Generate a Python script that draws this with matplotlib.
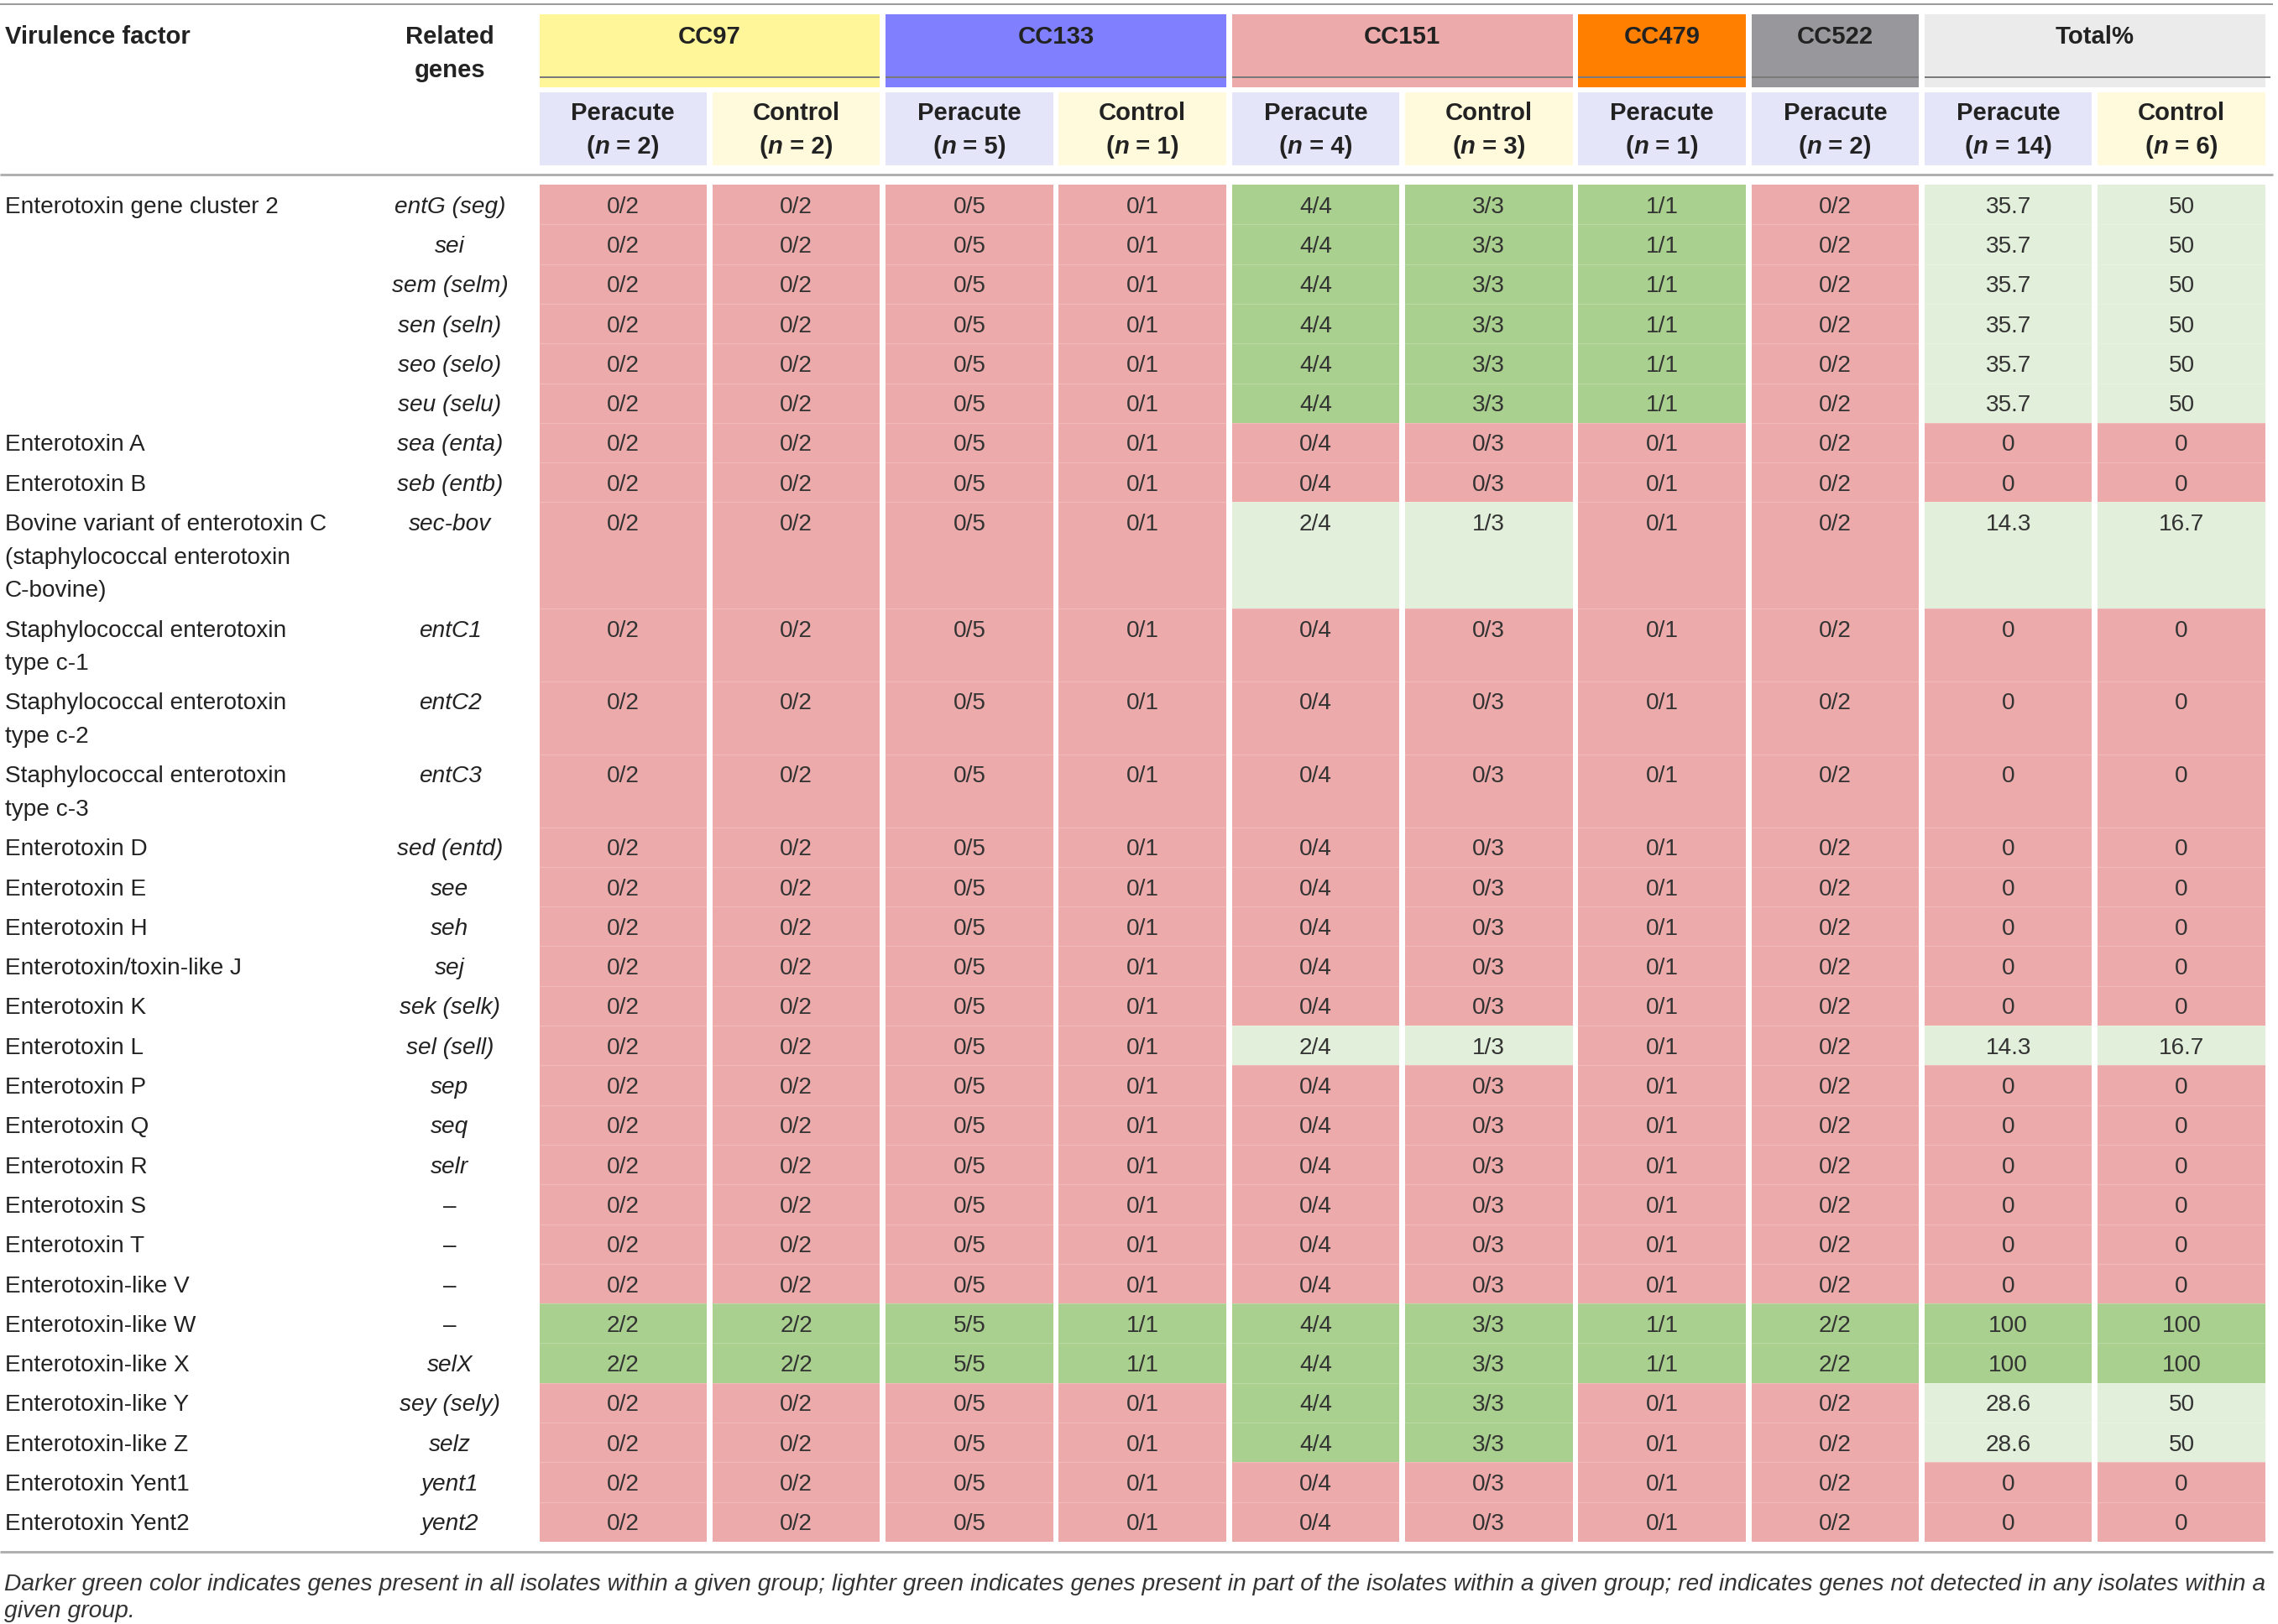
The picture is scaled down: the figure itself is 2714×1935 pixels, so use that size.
import matplotlib
matplotlib.use("Agg")
import matplotlib.pyplot as plt
from matplotlib.patches import Rectangle

# ---------------- data ----------------
factors = [
    "Enterotoxin gene cluster 2", "", "", "", "", "",
    "Enterotoxin A", "Enterotoxin B",
    "Bovine variant of enterotoxin C\n(staphylococcal enterotoxin\nC-bovine)",
    "Staphylococcal enterotoxin\ntype c-1",
    "Staphylococcal enterotoxin\ntype c-2",
    "Staphylococcal enterotoxin\ntype c-3",
    "Enterotoxin D", "Enterotoxin E", "Enterotoxin H", "Enterotoxin/toxin-like J",
    "Enterotoxin K", "Enterotoxin L", "Enterotoxin P", "Enterotoxin Q",
    "Enterotoxin R", "Enterotoxin S", "Enterotoxin T", "Enterotoxin-like V",
    "Enterotoxin-like W", "Enterotoxin-like X", "Enterotoxin-like Y",
    "Enterotoxin-like Z", "Enterotoxin Yent1", "Enterotoxin Yent2",
]
genes = [
    "entG (seg)", "sei", "sem (selm)", "sen (seln)", "seo (selo)", "seu (selu)",
    "sea (enta)", "seb (entb)", "sec-bov", "entC1", "entC2", "entC3",
    "sed (entd)", "see", "seh", "sej", "sek (selk)", "sel (sell)", "sep", "seq",
    "selr", "–", "–", "–", "–", "selX", "sey (sely)", "selz", "yent1", "yent2",
]

groups = ["CC97", "CC133", "CC151", "CC479", "CC522", "Total%"]
group_spans = [2, 2, 2, 1, 1, 2]
sub_labels = ["Peracute", "Control", "Peracute", "Control", "Peracute", "Control",
              "Peracute", "Peracute", "Peracute", "Control"]
sub_n = [2, 2, 5, 1, 4, 3, 1, 2, 14, 6]

cc97_peracute = [0, 0, 0, 0, 0, 0, 0, 0, 0, 0, 0, 0, 0, 0, 0, 0, 0, 0, 0, 0, 0, 0, 0, 0, 2, 2, 0, 0, 0, 0]
cc97_control  = [0, 0, 0, 0, 0, 0, 0, 0, 0, 0, 0, 0, 0, 0, 0, 0, 0, 0, 0, 0, 0, 0, 0, 0, 2, 2, 0, 0, 0, 0]
cc133_peracute = [0, 0, 0, 0, 0, 0, 0, 0, 0, 0, 0, 0, 0, 0, 0, 0, 0, 0, 0, 0, 0, 0, 0, 0, 5, 5, 0, 0, 0, 0]
cc133_control  = [0, 0, 0, 0, 0, 0, 0, 0, 0, 0, 0, 0, 0, 0, 0, 0, 0, 0, 0, 0, 0, 0, 0, 0, 1, 1, 0, 0, 0, 0]
cc151_peracute = [4, 4, 4, 4, 4, 4, 0, 0, 2, 0, 0, 0, 0, 0, 0, 0, 0, 2, 0, 0, 0, 0, 0, 0, 4, 4, 4, 4, 0, 0]
cc151_control  = [3, 3, 3, 3, 3, 3, 0, 0, 1, 0, 0, 0, 0, 0, 0, 0, 0, 1, 0, 0, 0, 0, 0, 0, 3, 3, 3, 3, 0, 0]
cc479_peracute = [1, 1, 1, 1, 1, 1, 0, 0, 0, 0, 0, 0, 0, 0, 0, 0, 0, 0, 0, 0, 0, 0, 0, 0, 1, 1, 0, 0, 0, 0]
cc522_peracute = [0, 0, 0, 0, 0, 0, 0, 0, 0, 0, 0, 0, 0, 0, 0, 0, 0, 0, 0, 0, 0, 0, 0, 0, 2, 2, 0, 0, 0, 0]
total_peracute = [35.7, 35.7, 35.7, 35.7, 35.7, 35.7, 0, 0, 14.3, 0, 0, 0, 0, 0, 0, 0, 0, 14.3,
                  0, 0, 0, 0, 0, 0, 100, 100, 28.6, 28.6, 0, 0]
total_control = [50, 50, 50, 50, 50, 50, 0, 0, 16.7, 0, 0, 0, 0, 0, 0, 0, 0, 16.7,
                 0, 0, 0, 0, 0, 0, 100, 100, 50, 50, 0, 0]

count_cols = [cc97_peracute, cc97_control, cc133_peracute, cc133_control,
              cc151_peracute, cc151_control, cc479_peracute, cc522_peracute]
pct_cols = [total_peracute, total_control]

caption_lines = [
    "Darker green color indicates genes present in all isolates within a given group; "
    "lighter green indicates genes present in part of the isolates within a given group; "
    "red indicates genes not detected in any isolates within a",
    "given group.",
]

# ---------------- style ----------------
W, H = 2714, 1935
DPI = 100
PX = 72.0 / DPI
FSPX = 28.0
FS = FSPX * PX
FSB = 29.3 * PX
FSC = 28.3 * PX
TXT = "#222222"
CELLTXT = "#333333"
RED = "#EDAAAA"
DGREEN = "#A9D08E"
LGREEN = "#E2EFDA"
group_colors = ["#FFF599", "#8080FF", "#EDAAAA", "#FF8000", "#98989C", "#EBEBEB"]
sub_colors = {"Peracute": "#E5E5FA", "Control": "#FFFADC"}
plt.rcParams["font.family"] = ["Liberation Sans", "DejaVu Sans"]

fig = plt.figure(figsize=(W / DPI, H / DPI), dpi=DPI)
ax = fig.add_axes([0, 0, 1, 1])
ax.set_xlim(0, W)
ax.set_ylim(H, 0)
ax.axis("off")

col_left0 = 642.5
col_step = 206.3
col_w = 199.5
data_top = 220.0
row_h1 = 47.3
row_line = 39.6


def col_x(i):
    return col_left0 + i * col_step


def put(x, yc, s, ha="center", **kw):
    kw.setdefault("color", TXT)
    kw.setdefault("fontsize", FS)
    base = 0.358 * kw["fontsize"] / PX  # baseline offset from visual centre
    return ax.text(x, yc + base, s, ha=ha, va="baseline", **kw)


# rows geometry
row_tops = []
row_hs = []
y = data_top
for f in factors:
    n = max(1, f.count("\n") + 1)
    h = row_h1 + row_line * (n - 1)
    row_tops.append(y)
    row_hs.append(h)
    y += h
data_bottom = y

# rules
ax.plot([0, 2708], [5, 5], color="#9a9a9a", lw=2 * PX, solid_capstyle="butt")
ax.plot([0, 2708], [208, 208], color="#b0b0b0", lw=3 * PX, solid_capstyle="butt")
ax.plot([0, 2708], [data_bottom + 12, data_bottom + 12], color="#b0b0b0", lw=3 * PX,
        solid_capstyle="butt")

# header column titles
put(6, 42, "Virulence factor", ha="left", fontweight="bold", fontsize=FSB)
put(536, 42, "Related", fontweight="bold", fontsize=FSB)
put(536, 82, "genes", fontweight="bold", fontsize=FSB)

# group headers
ci = 0
for g, span, gc in zip(groups, group_spans, group_colors):
    x0 = col_x(ci)
    x1 = col_x(ci + span - 1) + col_w
    ax.add_patch(Rectangle((x0, 17), x1 - x0, 87, facecolor=gc, edgecolor="none"))
    ax.plot([x0, x1 + (6 if ci + span == 10 else 0)], [92, 92], color="#7a7a7a",
            lw=2 * PX, solid_capstyle="butt")
    put((x0 + x1) / 2, 42, g, fontweight="bold", fontsize=FSB)
    ci += span

fig.canvas.draw()
renderer = fig.canvas.get_renderer()


def text_w(s, **kw):
    t = ax.text(0, 0, s, **kw)
    bb = t.get_window_extent(renderer=renderer)
    t.remove()
    return bb.width


# sub headers
for i, (lab, n) in enumerate(zip(sub_labels, sub_n)):
    x0 = col_x(i)
    ax.add_patch(Rectangle((x0, 110), col_w, 87, facecolor=sub_colors[lab], edgecolor="none"))
    cx = x0 + col_w / 2
    put(cx, 133, lab, fontweight="bold", fontsize=FSB)
    parts = [("(", "normal"), ("n", "italic"), (" = %d)" % n, "normal")]
    widths = [text_w(p, fontweight="bold", fontstyle=st, fontsize=FSB) for p, st in parts]
    xx = cx - sum(widths) / 2
    for (p, st), wdt in zip(parts, widths):
        put(xx, 173, p, ha="left", fontweight="bold", fontstyle=st, fontsize=FSB)
        xx += wdt

# data rows
for r, (f, g) in enumerate(zip(factors, genes)):
    top = row_tops[r]
    h = row_hs[r]
    yc = top + row_h1 / 2
    if f:
        for k, line in enumerate(f.split("\n")):
            put(6, yc + k * row_line, line, ha="left")
    put(536, yc, g, fontstyle="normal" if g == "–" else "italic")
    for c in range(10):
        x0 = col_x(c)
        if c < 8:
            num = count_cols[c][r]
            den = sub_n[c]
            label = "%d/%d" % (num, den)
            color = RED if num == 0 else (DGREEN if num == den else LGREEN)
        else:
            v = pct_cols[c - 8][r]
            label = "%g" % v
            color = RED if v == 0 else (DGREEN if v >= 100 else LGREEN)
        ax.add_patch(Rectangle((x0, top), col_w, h, facecolor=color, edgecolor="none"))
        if r > 0:
            ax.plot([x0, x0 + col_w], [top, top], color="white", alpha=0.2, lw=1.2 * PX)
        put(x0 + col_w / 2, yc, label, color=CELLTXT)

# caption
for k, line in enumerate(caption_lines):
    put(5, 1885 + k * 32, line, ha="left", fontstyle="italic", color=CELLTXT, fontsize=FSC)

fig.savefig("out.png", dpi=DPI)
